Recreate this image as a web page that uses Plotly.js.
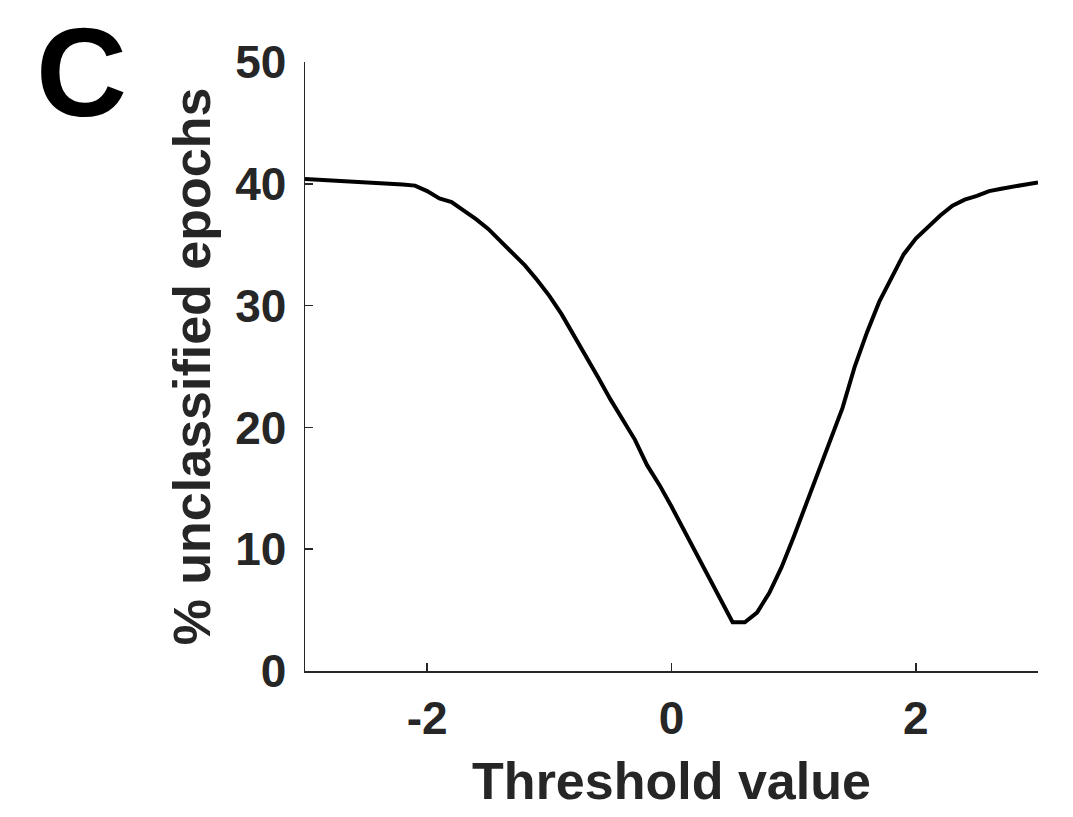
<!DOCTYPE html>
<html>
<head>
<meta charset="utf-8">
<script src="https://cdn.plot.ly/plotly-3.0.1.min.js"></script>
<style>
  html, body { margin: 0; padding: 0; background: #fff; }
  #chart { width: 1073px; height: 817px; }
</style>
</head>
<body>
<div id="chart"></div>
<script>
// Threshold sweep: share of epochs left unclassified at each threshold
const thresholds = [
  -3.0, -2.9, -2.8, -2.7, -2.6, -2.5, -2.4, -2.3, -2.2, -2.1,
  -2.0, -1.9, -1.8, -1.7, -1.6, -1.5, -1.4, -1.3, -1.2, -1.1,
  -1.0, -0.9, -0.8, -0.7, -0.6, -0.5, -0.4, -0.3, -0.2, -0.1,
   0.0,  0.1,  0.2,  0.3,  0.4,  0.5,  0.6,  0.7,  0.8,  0.9,
   1.0,  1.1,  1.2,  1.3,  1.4,  1.5,  1.6,  1.7,  1.8,  1.9,
   2.0,  2.1,  2.2,  2.3,  2.4,  2.5,  2.6,  2.7,  2.8,  2.9, 3.0
];
const unclassifiedPct = [
  40.4, 40.35, 40.3, 40.25, 40.2, 40.15, 40.1, 40.05, 39.95, 39.85,
  39.4, 38.8, 38.5, 37.8, 37.1, 36.3, 35.3, 34.3, 33.3, 32.1,
  30.8, 29.3, 27.6, 25.8, 24.1, 22.3, 20.7, 19.0, 16.9, 15.3,
  13.5, 11.6, 9.6, 7.7, 5.8, 4.0, 4.0, 4.8, 6.4, 8.5,
  11.0, 13.6, 16.3, 18.9, 21.6, 25.0, 27.8, 30.3, 32.2, 34.2,
  35.5, 36.5, 37.4, 38.2, 38.7, 39.0, 39.4, 39.6, 39.8, 39.95, 40.1
];
const xTicks = [-2, 0, 2];
const yTicks = [0, 10, 20, 30, 40, 50];

const FONT = '"Liberation Sans", Arial, Helvetica, sans-serif';
const INK = '#262626';

const trace = {
  x: thresholds,
  y: unclassifiedPct,
  type: 'scatter',
  mode: 'lines',
  line: { color: '#000000', width: 4 },
  hoverinfo: 'x+y'
};

const layout = {
  width: 1073,
  height: 817,
  paper_bgcolor: '#ffffff',
  plot_bgcolor: '#ffffff',
  showlegend: false,
  margin: { l: 305, r: 35, t: 62, b: 146, pad: 0 },
  font: { family: FONT, color: INK, weight: 'bold' },
  xaxis: {
    range: [-3, 3],
    tickvals: xTicks,
    ticktext: xTicks.map(String),
    ticks: 'inside',
    ticklen: 8,
    tickwidth: 1.5,
    tickcolor: INK,
    showline: true,
    linecolor: INK,
    linewidth: 1.5,
    showgrid: false,
    zeroline: false,
    ticklabelstandoff: 6,
    tickfont: { family: FONT, size: 46, color: INK, weight: 'bold' },
    title: {
      text: 'Threshold value',
      font: { family: FONT, size: 52, color: INK, weight: 'bold' },
      standoff: 20
    }
  },
  yaxis: {
    range: [0, 50],
    tickvals: yTicks,
    ticktext: yTicks.map(String),
    ticks: 'inside',
    ticklen: 8,
    tickwidth: 1.5,
    tickcolor: INK,
    showline: true,
    linecolor: INK,
    linewidth: 1.5,
    showgrid: false,
    zeroline: false,
    ticklabelstandoff: 8,
    tickfont: { family: FONT, size: 46, color: INK, weight: 'bold' },
    title: {
      text: '% unclassified epochs',
      font: { family: FONT, size: 52, color: INK, weight: 'bold' },
      standoff: 8
    }
  },
  annotations: [{
    text: 'C',
    xref: 'paper', yref: 'paper',
    x: -0.305, y: 1 + 62 / 609,
    xanchor: 'center', yanchor: 'top',
    showarrow: false,
    font: { family: FONT, size: 126, color: '#000000', weight: 'bold' }
  }]
};

Plotly.newPlot('chart', [trace], layout, { displayModeBar: false, staticPlot: true });
</script>
</body>
</html>
